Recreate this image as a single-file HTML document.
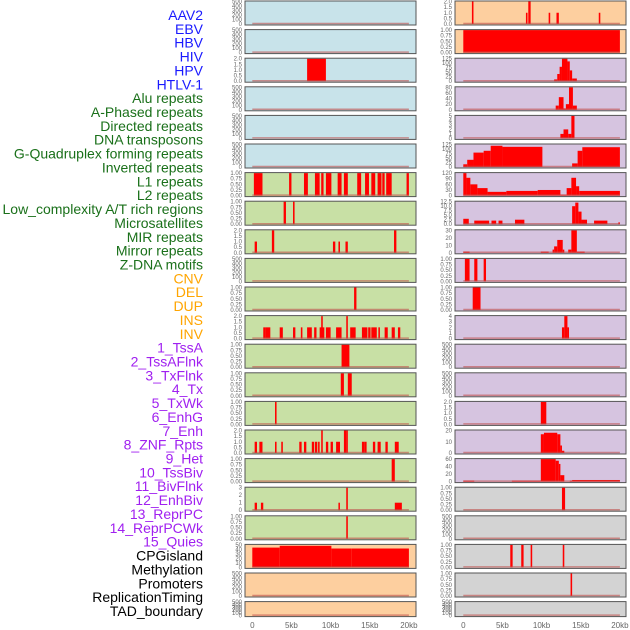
<!DOCTYPE html>
<html><head><meta charset="utf-8">
<style>
body{margin:0;background:#fff;width:630px;height:630px;overflow:hidden;font-family:"Liberation Sans",sans-serif;}
svg{display:block}
</style></head>
<body>
<svg id="chart" width="630" height="630" xmlns="http://www.w3.org/2000/svg"></svg>
<script>
const trackNames=["AAV2","EBV","HBV","HIV","HPV","HTLV-1","Alu repeats","A-Phased repeats","Directed repeats","DNA transposons","G-Quadruplex forming repeats","Inverted repeats","L1 repeats","L2 repeats","Low_complexity A/T rich regions","Microsatellites","MIR repeats","Mirror repeats","Z-DNA motifs","CNV","DEL","DUP","INS","INV","1_TssA","2_TssAFlnk","3_TxFlnk","4_Tx","5_TxWk","6_EnhG","7_Enh","8_ZNF_Rpts","9_Het","10_TssBiv","11_BivFlnk","12_EnhBiv","13_ReprPC","14_ReprPCWk","15_Quies","CPGisland","Methylation","Promoters","ReplicationTiming","TAD_boundary"];
const labelColors=["#1a1aff","#1a1aff","#1a1aff","#1a1aff","#1a1aff","#1a1aff","#1a701a","#1a701a","#1a701a","#1a701a","#1a701a","#1a701a","#1a701a","#1a701a","#1a701a","#1a701a","#1a701a","#1a701a","#1a701a","#ffa500","#ffa500","#ffa500","#ffa500","#ffa500","#a020f0","#a020f0","#a020f0","#a020f0","#a020f0","#a020f0","#a020f0","#a020f0","#a020f0","#a020f0","#a020f0","#a020f0","#a020f0","#a020f0","#a020f0","#000","#000","#000","#000","#000"];
const xTickValues=[0,5,10,15,20];
const xTickLabels=["0","5kb","10kb","15kb","20kb"];
const T500=["0","100","200","300","400","500"],T1=["0.00","0.25","0.50","0.75","1.00"],T2=["0.0","0.5","1.0","1.5","2.0"];
const leftMax=[500,500,2,500,500,500,1,1,2,500,1,2,1,1,1,2,1,3,1,50,500,500];
const leftTicks=[T500,T500,T2,T500,T500,T500,T1,T1,T2,T500,T1,T2,T1,T1,T1,T2,T1,["0","1","2","3"],T1,["0","10","20","30","40","50"],T500,T500];
const leftBars=[
[],[],[[7.0,9.4,2]],[],[],[],
[[0.2,1.3,1],[4.7,5.0,1],[6.6,7.1,1],[8.0,8.6,1],[8.8,9.1,1],[9.4,10.1,1],[10.9,11.4,1],[11.7,12.2,1],[13.4,13.9,1],[14.4,14.9,1],[15.2,15.7,1],[16.0,16.5,1],[16.6,16.9,1],[17.1,17.8,1],[19.7,20.0,1]],
[[4.0,4.3,1],[5.2,5.4,1]],
[[0.3,0.6,1],[2.5,2.8,2],[10.3,10.6,1],[11.0,11.2,1],[11.9,12.2,1],[18.1,18.4,2]],
[],
[[13.0,13.3,1]],
[[1.4,1.7,1],[1.7,2.3,1],[3.5,3.9,1],[5.2,5.5,1],[6.2,6.4,1],[7.0,7.6,1],[7.9,8.2,1],[8.6,9.2,1],[8.8,9.0,2],[9.4,10.0,1],[10.7,11.4,1],[12.0,12.2,2],[12.5,13.2,1],[14.0,14.7,1],[14.8,15.1,1],[15.2,15.9,1],[16.1,16.3,1],[16.9,17.3,1],[17.8,18.2,1],[18.6,18.9,1]],
[[11.4,12.4,1]],
[[11.3,11.7,1],[12.2,12.7,1]],
[[2.9,3.1,1]],
[[0.3,0.6,1],[0.9,1.3,1],[2.9,3.1,1],[3.7,3.9,1],[6.0,6.3,1],[6.6,6.9,1],[7.6,7.9,1],[8.0,8.3,1],[8.4,8.6,1],[8.8,9.0,2],[9.4,9.7,1],[10.0,10.3,1],[10.7,11.2,1],[11.7,12.0,2],[12.0,12.2,2],[14.0,14.3,1],[14.3,14.6,1],[15.4,15.7,1],[16.0,16.4,1],[17.0,17.3,1],[18.2,18.7,1]],
[[17.8,18.2,1]],
[[0.3,0.6,1],[1.1,1.4,1],[11.0,11.1,1],[12.0,12.2,3],[18.2,19.1,1]],
[[12.0,12.2,1]],
[[0,3.5,44],[3.5,10.1,48],[10.1,12.7,42],[12.7,20,42]],
[],[]];
const rightMax=[2,1,125,80,5,125,120,12.5,35,1,1,4,500,500,2,30,70,1,500,1,1,500];
const rightTicks=[T2,T1,["0","25","50","75","100","125"],["0","20","40","60","80"],["0","1","2","3","4","5"],["0","25","50","75","100","125"],["0","30","60","90","120"],["0.0","2.5","5.0","7.5","10.0","12.5"],["0","10","20","30"],T1,T1,["0","1","2","3","4"],T500,T500,T2,["0","10","20"],["0","20","40","60"],T1,T500,T1,T1,T500];
const rightBars=[
[[1.1,1.3,2],[8.0,8.2,1],[8.3,8.6,2],[10.9,11.1,1],[11.9,12.2,1],[17.3,17.5,1]],
[[0,20,1]],
[[11.6,12.0,10],[12.0,12.3,40],[12.3,12.6,80],[12.6,13.3,125],[13.3,13.6,110],[13.6,13.9,60],[13.9,14.5,15]],
[[11.8,12.2,15],[12.2,12.8,45],[12.8,13.1,5],[13.1,13.5,20],[13.5,14.0,80],[14.0,14.5,15]],
[[12.4,12.8,1],[12.8,13.4,2],[13.4,13.8,1],[13.8,14.2,5]],
[[0,0.5,15],[0.5,1.3,40],[1.3,2.6,80],[2.6,3.5,90],[3.5,5.0,118],[5.0,10.1,112],[13.9,14.6,20],[14.6,15.2,90],[15.2,20,110]],
[[0,0.4,120],[0.4,0.9,95],[0.9,1.8,60],[1.8,3.1,40],[3.1,5.5,20],[5.5,9.5,25],[9.5,12.4,30],[12.4,13.2,5],[13.2,13.8,40],[13.8,14.4,95],[14.4,14.8,50],[14.8,20,25]],
[[0,0.7,3],[1.4,3.3,2],[3.6,4.2,2],[4.5,5.0,2],[6.6,7.8,2.5],[13.9,14.3,10],[14.3,14.7,12],[14.7,15.1,7],[15.1,15.8,2.5],[16.7,18.4,2],[19.8,20,1]],
[[0,0.8,2],[9.9,10.9,2],[11.4,11.6,5],[11.6,12.0,10],[12.0,12.7,20],[12.7,12.9,5],[13.4,13.8,5],[13.8,14.5,35],[14.5,15.5,2]],
[[0.2,0.8,1],[1.4,1.8,1],[2.6,2.9,1]],
[[1.2,2.2,1]],
[[12.6,12.9,2],[12.9,13.3,4],[13.3,13.5,2]],
[],[],
[[9.9,10.6,2]],
[[9.9,10.3,25],[10.3,12.0,27],[12.0,12.4,25],[12.4,12.6,10],[12.6,12.9,3]],
[[0,1.4,3],[6.2,9.9,3],[9.9,11.8,70],[11.8,12.2,65],[12.2,12.4,55],[12.4,12.9,20],[13.6,13.9,3],[13.9,20,5]],
[[12.6,13.0,1]],
[],
[[6.0,6.3,1],[7.4,7.7,1],[8.6,8.8,1],[12.7,12.9,1]],
[[13.7,13.9,1]],
[]];
const leftColors=["#c8e3ea","#c8e3ea","#c8e3ea","#c8e3ea","#c8e3ea","#c8e3ea","#c8e0a5","#c8e0a5","#c8e0a5","#c8e0a5","#c8e0a5","#c8e0a5","#c8e0a5","#c8e0a5","#c8e0a5","#c8e0a5","#c8e0a5","#c8e0a5","#c8e0a5","#fdcf9f","#fdcf9f","#fdcf9f"];
const rightColors=["#fdcf9f","#fdcf9f","#d6c4e0","#d6c4e0","#d6c4e0","#d6c4e0","#d6c4e0","#d6c4e0","#d6c4e0","#d6c4e0","#d6c4e0","#d6c4e0","#d6c4e0","#d6c4e0","#d6c4e0","#d6c4e0","#d6c4e0","#d3d3d3","#d3d3d3","#d3d3d3","#d3d3d3","#d3d3d3"];

const NS="http://www.w3.org/2000/svg";
const svg=document.getElementById('chart');
function mk(tag,attrs,parent){const e=document.createElementNS(NS,tag);for(const k in attrs)e.setAttribute(k,attrs[k]);(parent||svg).appendChild(e);return e;}
trackNames.forEach((n,i)=>{
  const t=mk('text',{x:203,y:15+i*13.86+5,'text-anchor':'end','font-size':'14',fill:labelColors[i]});
  
  
  t.textContent=n;
});
const cols=[{x0:245,x1:416,z:252.3,max:leftMax,ticks:leftTicks,bars:leftBars,colors:leftColors,name:'left'},
            {x0:455,x1:626,z:463.3,max:rightMax,ticks:rightTicks,bars:rightBars,colors:rightColors,name:'right'}];
const KB=7.83;
cols.forEach(c=>{
  const xs=kb=>c.z+kb*KB;
  for(let i=0;i<22;i++){
    const top=1+i*28.6, h=(i==21)?15:24, bot=top+h;
    const g=mk('g',{});
    
    
    mk('rect',{x:c.x0,y:top,width:c.x1-c.x0,height:h,fill:c.colors[i]},g);
    const ys=v=>bot-1-(v/c.max[i])*(h-1.5);
    c.bars[i].forEach(b=>{
      const r=mk('rect',{x:xs(b[0]),y:ys(b[2]),width:Math.max(1.5,xs(b[1])-xs(b[0])),height:bot-1-ys(b[2]),fill:'#ff0000'},g);
      
      
    });
    mk('line',{x1:xs(0),x2:xs(20),y1:bot-1.5,y2:bot-1.5,stroke:'#c0504d','stroke-opacity':0.6,'stroke-width':1.5},g);
    mk('rect',{x:c.x0,y:top,width:c.x1-c.x0,height:h,fill:'none',stroke:'#555','stroke-width':1},g);
    const tl=c.ticks[i], n=tl.length;
    tl.forEach((s,k)=>{
      const v=k/(n-1)*c.max[i];
      const t=mk('text',{x:c.x0-3,y:ys(v)+2,'text-anchor':'end','font-size':'6',fill:'#666'},g);
      
      
      t.textContent=s;
    });
  }
  xTickValues.forEach((v,k)=>{
    const t=mk('text',{x:xs(v),y:628,'text-anchor':'middle','font-size':'8',fill:'#666'});
    
    
    t.textContent=xTickLabels[k];
  });
});
</script>
</body></html>
